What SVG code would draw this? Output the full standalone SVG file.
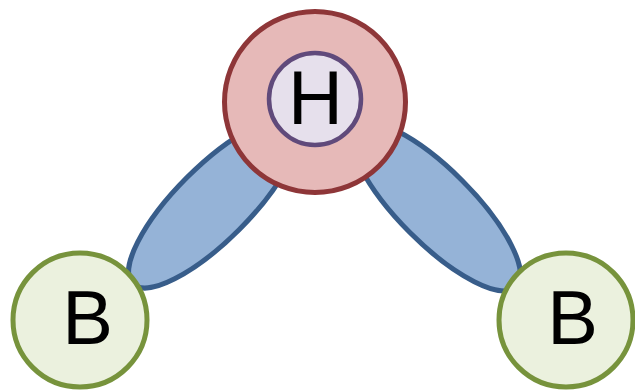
<svg xmlns="http://www.w3.org/2000/svg" width="635" height="390" viewBox="0 0 635 390">
<style>
.bond{fill:#95B3D7;stroke:#385D8A;stroke-width:5}
.b{fill:#EBF1DE;stroke:#77933C;stroke-width:5}
.lbl{font-family:"Liberation Sans",Arial,sans-serif;font-size:76px;fill:#000;text-anchor:middle}
</style>
<rect width="635" height="390" fill="#fff"/>
<g id="connectors">
<ellipse class="bond" cx="213" cy="203.6" rx="113.5" ry="36.9" transform="rotate(-45 213 203.6)"/>
<ellipse class="bond" cx="436" cy="206.5" rx="113.5" ry="36.9" transform="rotate(45 436 206.5)"/>
</g>
<g id="H">
<circle cx="315" cy="102" r="90.5" fill="#E6B9B8" stroke="#8E3638" stroke-width="5"/>
<circle cx="315" cy="99" r="46" fill="#E6E0EC" stroke="#604A7B" stroke-width="4.5"/>
<text class="lbl" x="315.5" y="124">H</text>
</g>
<g id="B1">
<circle class="b" cx="80" cy="320" r="67"/>
<text class="lbl" x="87.5" y="344">B</text>
</g>
<g id="B2">
<circle class="b" cx="566" cy="320" r="67"/>
<text class="lbl" x="572.5" y="344">B</text>
</g>
</svg>
